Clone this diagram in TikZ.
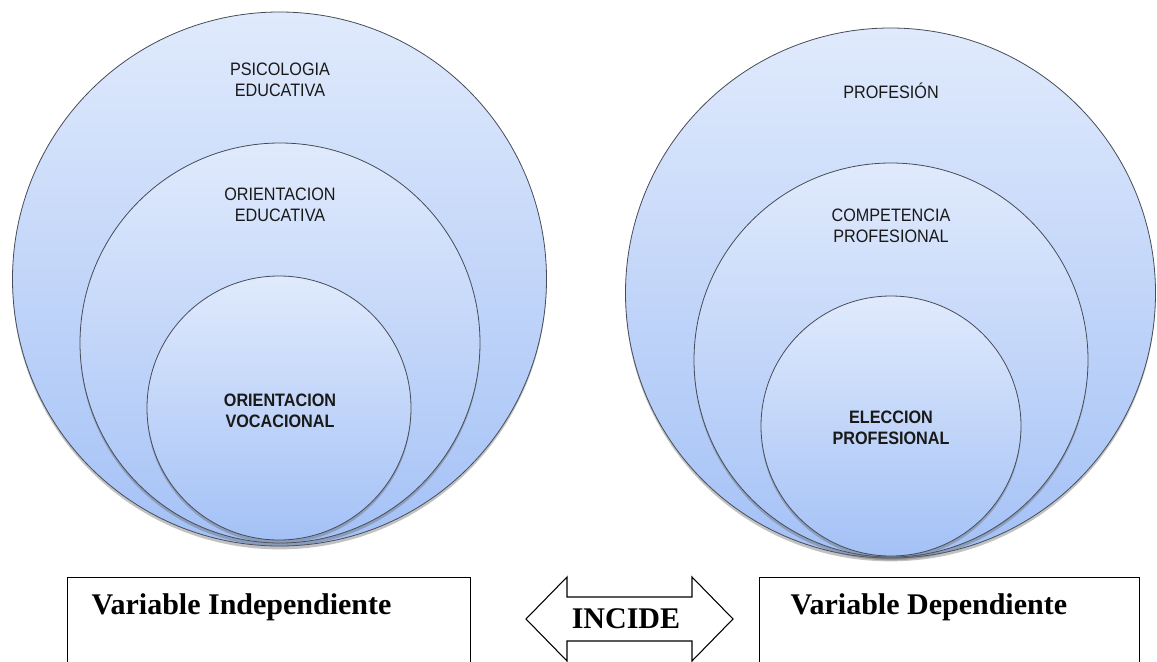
\documentclass[tikz,border=0pt]{standalone}
\usepackage{fontspec}
\setmainfont{Liberation Serif}
\newfontfamily\circfont[FakeStretch=0.9]{Liberation Sans}
\usetikzlibrary{shadows}
\definecolor{ringtop}{RGB}{224,234,252}
\definecolor{ringbot}{RGB}{164,193,246}
\definecolor{ringline}{RGB}{70,76,88}
\tikzset{
  ring/.style={circle, draw=ringline, line width=0.6pt, top color=ringtop, bottom color=ringbot, inner sep=0pt,
    drop shadow={shadow xshift=0pt, shadow yshift=-2.5pt, opacity=0.4, fill=black!60}},
  ringtext/.style={align=center, font=\circfont\fontsize{13.5}{15.75}\selectfont, text=black!90},
  varbox/.style={draw, line width=1pt, anchor=north west, inner sep=0pt},
  vartext/.style={anchor=west, font=\fontsize{22.5}{27}\selectfont\bfseries},
}
\begin{document}
\begin{tikzpicture}[x=0.75pt, y=-0.75pt]
 \useasboundingbox (0,0) rectangle (1157,661);
 \begin{scope}
  % Left circles
  \node[ring, minimum size=400.5pt] (psi) at (279.5,279) {};
  \node[ring, minimum size=300pt] (ori) at (280,343) {};
  \node[ring, minimum size=198pt] (voc) at (279,408) {};
  % Left labels
  \node[ringtext] (tpsi) at (280,79.5) {PSICOLOGIA\\EDUCATIVA};
  \node[ringtext] (tori) at (280,205) {ORIENTACION\\EDUCATIVA};
  \node[ringtext, font=\circfont\bfseries\fontsize{13.5}{15.75}\selectfont] (tvoc) at (280,410.5) {ORIENTACION\\VOCACIONAL};
 \end{scope}
 \begin{scope}
  % Right circles
  \node[ring, minimum size=397.5pt] (pro) at (890.5,293) {};
  \node[ring, minimum size=295.5pt] (com) at (891,360) {};
  \node[ring, minimum size=195pt] (ele) at (891,426) {};
  % Right labels
  \node[ringtext] (tpro) at (891,91) {PROFESIÓN};
  \node[ringtext] (tcom) at (891,225.5) {COMPETENCIA\\PROFESIONAL};
  \node[ringtext, font=\circfont\bfseries\fontsize{13.5}{15.75}\selectfont] (tele) at (891,428) {ELECCION\\PROFESIONAL};
 \end{scope}
 % Variable boxes
 \node[varbox, minimum width=302.25pt, minimum height=100pt] (vi) at (67,577) {};
 \node[varbox, minimum width=285pt, minimum height=100pt] (vd) at (759,577) {};
 \node[vartext] (tvi) at (87,607) {Variable Independiente};
 \node[vartext] (tvd) at (786,607) {Variable Dependiente};
 % Double arrow
 \draw[line width=0.8pt, fill=white] (526,619) -- (567,577) -- (567,597) -- (692,597) -- (692,577)
   -- (733,619) -- (692,661) -- (692,641) -- (567,641) -- (567,661) -- cycle;
 \node[vartext, anchor=center] (inc) at (626,619) {INCIDE};
\end{tikzpicture}
\end{document}
